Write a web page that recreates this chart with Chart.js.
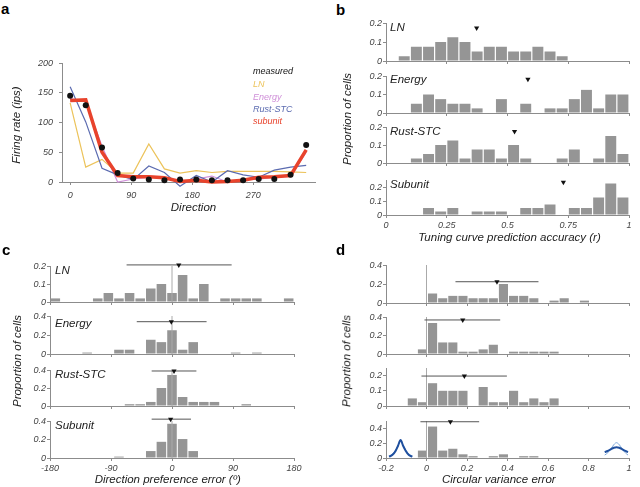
<!DOCTYPE html>
<html><head><meta charset="utf-8">
<script src="https://cdn.jsdelivr.net/npm/chart.js@4.4.1/dist/chart.umd.min.js"></script>
<style>
html,body{margin:0;padding:0;background:#fff;}
#root{position:relative;width:640px;height:487px;overflow:hidden;font-family:"Liberation Sans",Arial,Helvetica,sans-serif;}
canvas{position:absolute;}
.t{position:absolute;white-space:nowrap;font-style:italic;font-size:11.5px;color:#222;line-height:1;}
.s{font-size:9px;}
.lab{position:absolute;font-weight:bold;font-size:15px;color:#000;line-height:1;}
.rot{transform:translate(-50%,-50%) rotate(-90deg);}
.ctr{transform:translate(-50%,-50%);}
.vc{transform:translateY(-50%);}
</style></head><body><div id="root"></div>
<script>
// ---------- Panel a data ----------
const directions = [0,23,47,70,93,116,139,162,186,209,232,255,278,301,325,348];
const measured   = [145,129,58,15,6,4,3,4,4,3,3,3,5,5,12,62];
const lnFit      = [133,25,38,15,15,64,22,15,19,16,18,18,18,18,17,16];
const energyFit  = [140,135,60,0,5,8,8,0,5,10,0,5,5,8,10,50];
const rustFit    = [160,101,23,12,4,27,16,-7,11,0,19,12,8,20,25,28];
const subunitFit = [137,138,50,11,9,9,7,1,3,0,1,3,8,9,11,54];
const aXTicks = [0,90,180,270];
const aYTicks = [0,50,100,150,200];

// ---------- Panel b: tuning curve prediction accuracy (bins of 0.05) ----------
const bLN      = [0,0.025,0.075,0.075,0.1,0.125,0.1,0.05,0.075,0.075,0.05,0.05,0.075,0.05,0.025,0,0,0,0,0];
const bEnergy  = [0,0,0.05,0.1,0.075,0.05,0.05,0.025,0,0.075,0,0.05,0,0.025,0.025,0.075,0.125,0.025,0.1,0.1];
const bRust    = [0,0,0.025,0.05,0.1,0.125,0.025,0.075,0.075,0.025,0.1,0.025,0,0,0.025,0.075,0,0.025,0.15,0.05];
const bSubunit = [0,0,0,0.05,0.025,0.05,0,0.025,0.025,0.025,0,0.05,0.05,0.075,0,0.05,0.05,0.125,0.225,0.125];
const bMeanX = [0.373,0.584,0.529,0.73];
const bMeanY = [0.174,0.182,0.175,0.234];
const bXTicks = [0,0.25,0.5,0.75,1];

// ---------- Panel c: direction preference error (23 bins over ±180) ----------
const cLN      = [0.02,0,0,0,0.02,0.05,0.02,0.05,0.02,0.075,0.1,0.05,0.15,0.02,0.1,0,0.02,0.02,0.02,0.02,0,0,0.02];
const cEnergy  = [0,0,0,0.015,0,0,0.045,0.045,0,0.15,0.125,0.25,0.045,0.125,0,0,0,0.015,0,0.015,0,0,0];
const cRust    = [0,0,0,0,0,0,0,0.02,0.02,0.045,0.2,0.345,0.1,0.045,0.045,0.045,0,0,0.02,0,0,0,0];
const cSubunit = [0,0,0,0,0,0,0.015,0,0,0.075,0.175,0.37,0.205,0.075,0,0,0,0,0,0,0,0,0];
const cMean  = [10,-1,3,-2];
const cMarkY = [0.206,0.34,0.389,0.42];
const cErrLo = [-67,-52,-30,-30];
const cErrHi = [88,51,36,28];
const cXTicks = [-180,-90,0,90,180];

// ---------- Panel d: circular variance error (bins of 0.05) ----------
const dLN      = [0,0,0,0,0.1,0.05,0.075,0.075,0.05,0.05,0.05,0.2,0.075,0.075,0.05,0,0.025,0.05,0,0.025,0,0,0,0];
const dEnergy  = [0,0,0,0.05,0.335,0.125,0.125,0.025,0.025,0.05,0.1,0,0.025,0.025,0.025,0.025,0.025,0,0,0,0,0,0,0];
const dRust    = [0,0,0.05,0.025,0.15,0.1,0.1,0.1,0,0.125,0.025,0.025,0.1,0.025,0.05,0.025,0.05,0,0,0,0,0,0,0];
const dSubunit = [0,0,0,0.1,0.425,0.1,0.125,0.05,0.025,0,0.025,0.05,0,0.025,0.025,0,0,0,0,0,0,0,0,0];
const dMean  = [0.348,0.179,0.187,0.118];
const dMarkY = [0.224,0.368,0.197,0.49];
const dErrLo = [0.143,-0.01,-0.025,-0.03];
const dErrHi = [0.553,0.364,0.397,0.26];
const dXTicks = [-0.2,0,0.2,0.4,0.6,0.8,1];
// inset tuning curves
const insetLX      = [-0.185,-0.169,-0.152,-0.141,-0.128,-0.115,-0.103,-0.087,-0.07];
const insetLDark   = [0.018,0.04,0.099,0.162,0.243,0.162,0.099,0.04,0.018];
const insetLLight  = [0.025,0.055,0.11,0.168,0.228,0.168,0.11,0.055,0.025];
const insetRX      = [0.88,0.895,0.91,0.925,0.938,0.952,0.967,0.982,0.995];
const insetRDark   = [0.08,0.095,0.118,0.138,0.146,0.138,0.118,0.095,0.08];
const insetRLight  = [0.04,0.07,0.12,0.18,0.207,0.18,0.12,0.07,0.04];

const models = ['LN','Energy','Rust-STC','Subunit'];

// ---------- helpers ----------
const FONT = '"Liberation Sans", Arial, Helvetica, sans-serif';
const AXC = '#8c8c8c', TXC = '#444', BAR = '#959595';
const root = document.getElementById('root');
Chart.defaults.font.family = FONT;

function centers(start, step, n){ return Array.from({length:n},(_,i)=>+(start+i*step).toFixed(5)); }
const binsB = centers(0.025, 0.05, 20);
const binsC = centers(-180 + 180/23, 360/23, 23);
const binsD = centers(-0.17, 0.05, 24);

function place(area, W, PT, PR, H){
  const c = document.createElement('canvas');
  const x0 = area.l - W, y0 = area.t - PT;
  const w = area.r - x0 + PR, h = area.b - y0 + H;
  c.width = w; c.height = h;
  c.style.left = x0 + 'px'; c.style.top = y0 + 'px';
  c.style.width = w + 'px'; c.style.height = h + 'px';
  root.appendChild(c);
  return c;
}
function mkAxis(o){
  return {
    type:'linear', min:o.min, max:o.max, offset:false,
    afterBuildTicks: s => { s.ticks = o.ticks.map(v => ({value:v})); },
    afterFit: s => { if (o.isX) s.height = o.fit; else s.width = o.fit; },
    grid:{display:true, drawOnChartArea:false, drawTicks:true, tickLength:o.tl, color:AXC, lineWidth:1, offset:false},
    border:{display:true, color:AXC, width:1},
    ticks:{display:o.labels, padding:o.pad, color:TXC, autoSkip:false, maxRotation:0,
           font:{family:FONT, size:9, style:'italic'}, callback:v => String(v)}
  };
}
function baseOpts(PT, PR, xs, ys){
  return {
    responsive:false, animation:false, devicePixelRatio:1, events:[],
    layout:{padding:{left:0, top:PT, right:PR, bottom:0}},
    plugins:{legend:{display:false}, tooltip:{enabled:false}, title:{display:false}},
    scales:{x:xs, y:ys}
  };
}
function text(str, x, y, cls, color){
  const d = document.createElement('div');
  d.className = cls; d.textContent = str;
  d.style.left = x + 'px'; d.style.top = y + 'px';
  if (color) d.style.color = color;
  root.appendChild(d);
}

function hist(area, c){
  const PT = 10, PR = 14, H = 24, W = 40;
  const cv = place(area, W, PT, PR, H);
  const ds = [];
  if (c.marker) ds.push({type:'line', data:[c.marker], showLine:false, pointStyle:'triangle', rotation:180,
    pointRadius:3, pointBackgroundColor:'#111', pointBorderWidth:0, clip:false});
  if (c.err) ds.push({type:'line', data:c.err, borderColor:'#555', borderWidth:1, pointRadius:0, clip:false});
  if (c.vline) ds.push({type:'line', data:c.vline, borderColor:'#aaa', borderWidth:1, pointRadius:0, clip:false});
  (c.extra || []).forEach(d => ds.push(d));
  ds.push({type:'bar', data:c.vals.map((v,i)=>({x:c.bins[i], y:v})), backgroundColor:BAR, borderWidth:0,
    barPercentage:0.9, categoryPercentage:1});
  const xs = mkAxis({min:c.xmin, max:c.xmax, ticks:c.xticks, labels:c.xlabels, fit:H, isX:true, tl:3, pad:c.xpad});
  const ys = mkAxis({min:0, max:c.ymax, ticks:c.yticks, labels:true, fit:W, isX:false, tl:3, pad:1});
  new Chart(cv, {type:'bar', data:{datasets:ds}, options:baseOpts(PT, PR, xs, ys)});
}

// ---------- Panel a ----------
(function(){
  const area = {l:62, t:63, r:315, b:182};
  const cv = place(area, 62, 13, 10, 38);
  const pts = arr => arr.map((v,i)=>({x:directions[i], y:v}));
  const line = (arr, col, w) => ({type:'line', data:pts(arr), borderColor:col, borderWidth:w, pointRadius:0, tension:0, clip:false});
  const ds = [
    {type:'line', data:pts(measured), showLine:false, pointRadius:3, pointBackgroundColor:'#111', pointBorderWidth:0, clip:false},
    line(subunitFit, '#e8432c', 3.5),
    line(rustFit, '#5b6bb0', 1.2),
    line(energyFit, '#cf8fd8', 1.2),
    line(lnFit, '#ecc35a', 1.2)
  ];
  const xs = mkAxis({min:-12, max:361, ticks:aXTicks, labels:true, fit:38, isX:true, tl:3, pad:5});
  const ys = mkAxis({min:0, max:200, ticks:aYTicks, labels:true, fit:62, isX:false, tl:3, pad:6});
  new Chart(cv, {type:'line', data:{datasets:ds}, options:baseOpts(13, 10, xs, ys)});
})();

// ---------- Panel b ----------
const bVals = [bLN, bEnergy, bRust, bSubunit];
const bAreas = [{t:23,b:61},{t:76,b:113},{t:127,b:163},{t:180,b:215}];
const bYmax = [0.2,0.2,0.2,0.25];
bVals.forEach((v,i)=>{
  hist({l:386, r:629, t:bAreas[i].t, b:bAreas[i].b}, {
    vals:v, bins:binsB, xmin:0, xmax:1, xticks:bXTicks, xlabels:i===3, xpad:2,
    ymax:bYmax[i], yticks:[0,0.1,0.2], marker:{x:bMeanX[i], y:bMeanY[i]}
  });
});

// ---------- Panel c ----------
const cVals = [cLN, cEnergy, cRust, cSubunit];
const cAreas = [{t:266,b:302},{t:316,b:354},{t:370,b:406},{t:421,b:458}];
const cYmax = [0.2,0.4,0.4,0.4];
const cYt = [[0,0.1,0.2],[0,0.2,0.4],[0,0.2,0.4],[0,0.2,0.4]];
cVals.forEach((v,i)=>{
  hist({l:50, r:294, t:cAreas[i].t, b:cAreas[i].b}, {
    vals:v, bins:binsC, xmin:-180, xmax:180, xticks:cXTicks, xlabels:i===3, xpad:2,
    ymax:cYmax[i], yticks:cYt[i], marker:{x:cMean[i], y:cMarkY[i]},
    err:[{x:cErrLo[i], y:cMarkY[i]},{x:cErrHi[i], y:cMarkY[i]}],
    vline:[{x:0,y:0},{x:0,y:cYmax[i]}]
  });
});

// ---------- Panel d ----------
const dVals = [dLN, dEnergy, dRust, dSubunit];
const dAreas = [{t:265,b:303},{t:317,b:354},{t:368,b:406},{t:421,b:458}];
const dYmax = [0.4,0.4,0.25,0.5];
const dYt = [[0,0.2,0.4],[0,0.2,0.4],[0,0.1,0.2],[0,0.2,0.4]];
const curve = (xs, ys, col, w) => ({type:'line', data:xs.map((x,i)=>({x, y:ys[i]})), borderColor:col, borderWidth:w,
  pointRadius:0, cubicInterpolationMode:'monotone', clip:false});
dVals.forEach((v,i)=>{
  const extra = i===3 ? [
    curve(insetLX, insetLDark, '#1f4f9e', 2), curve(insetLX, insetLLight, '#7aa6da', 1),
    curve(insetRX, insetRDark, '#1f4f9e', 2), curve(insetRX, insetRLight, '#7aa6da', 1)
  ] : [];
  hist({l:386, r:629, t:dAreas[i].t, b:dAreas[i].b}, {
    vals:v, bins:binsD, xmin:-0.2, xmax:1, xticks:dXTicks, xlabels:i===3, xpad:2,
    ymax:dYmax[i], yticks:dYt[i], marker:{x:dMean[i], y:dMarkY[i]},
    err:[{x:dErrLo[i], y:dMarkY[i]},{x:dErrHi[i], y:dMarkY[i]}],
    vline:[{x:0,y:0},{x:0,y:dYmax[i]}], extra
  });
});

// ---------- text ----------
text('a', 1, 1, 'lab'); text('b', 336, 2, 'lab'); text('c', 2, 242, 'lab'); text('d', 336, 242, 'lab');
text('Firing rate (ips)', 17, 125, 't rot');
text('Direction', 193.5, 208, 't ctr');
const legendItems = [['measured','#111',71],['LN','#ecc35a',83.8],['Energy','#cf8fd8',96.5],['Rust-STC','#5b6bb0',108.8],['subunit','#e8432c',121.3]];
legendItems.forEach(([s,c,y]) => text(s, 253, y, 't s vc', c));
text('Proportion of cells', 348, 119, 't rot');
text('Tuning curve prediction accuracy (r)', 509.5, 237.5, 't ctr');
[28,79.5,132,185].forEach((y,i)=>text(models[i], 390, y, 't vc'));
text('Proportion of cells', 18, 361, 't rot');
text('Direction preference error (º)', 167.7, 479.5, 't ctr');
[271.2,323.7,375.3,426.2].forEach((y,i)=>text(models[i], 55, y, 't vc'));
text('Proportion of cells', 347, 361, 't rot');
text('Circular variance error', 498.8, 479.5, 't ctr');
</script>
</body></html>
